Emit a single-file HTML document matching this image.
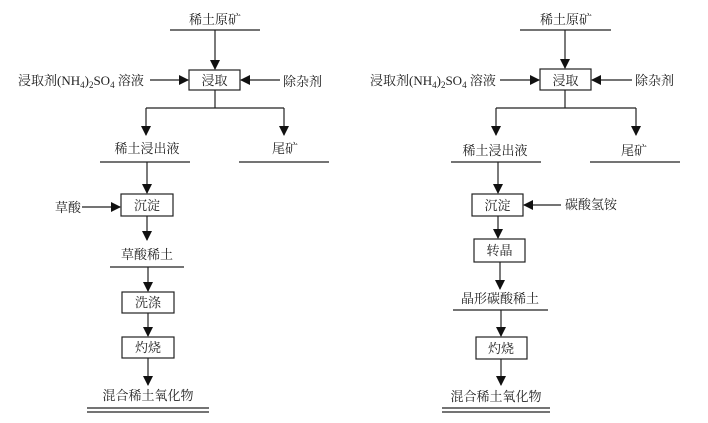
<!DOCTYPE html>
<html><head><meta charset="utf-8"><style>
body{margin:0;background:#fff}
svg text{font-family:"Liberation Serif","Noto Serif CJK SC",serif;font-size:13px;fill:#222}
</style></head><body>
<svg width="708" height="418" viewBox="0 0 708 418" xmlns="http://www.w3.org/2000/svg">
<defs><marker id="a" markerWidth="10" markerHeight="10" refX="9" refY="5" orient="auto" markerUnits="userSpaceOnUse"><path d="M0,0 L10,5 L0,10 z" fill="#111"/></marker></defs>
<g stroke="#222" stroke-width="1.2" fill="none">
<!-- left -->
<line x1="170" y1="30" x2="260" y2="30"/>
<line x1="215" y1="30" x2="215" y2="69" marker-end="url(#a)"/>
<rect x="189" y="70" width="51" height="20" fill="#fff"/>
<line x1="150" y1="80" x2="188" y2="80" marker-end="url(#a)"/>
<line x1="280" y1="80" x2="241" y2="80" marker-end="url(#a)"/>
<polyline points="215,90 215,108"/>
<line x1="146" y1="108" x2="284" y2="108"/>
<line x1="146" y1="108" x2="146" y2="135" marker-end="url(#a)"/>
<line x1="284" y1="108" x2="284" y2="135" marker-end="url(#a)"/>
<line x1="100" y1="162" x2="190" y2="162"/>
<line x1="239" y1="162" x2="329" y2="162"/>
<line x1="147" y1="162" x2="147" y2="193" marker-end="url(#a)"/>
<rect x="121" y="194" width="52" height="22" fill="#fff"/>
<line x1="82" y1="207" x2="120" y2="207" marker-end="url(#a)"/>
<line x1="147" y1="216" x2="147" y2="240" marker-end="url(#a)"/>
<line x1="110" y1="267" x2="184" y2="267"/>
<line x1="148" y1="267" x2="148" y2="291" marker-end="url(#a)"/>
<rect x="122" y="292" width="52" height="21" fill="#fff"/>
<line x1="148" y1="313" x2="148" y2="336" marker-end="url(#a)"/>
<rect x="122" y="337" width="52" height="21" fill="#fff"/>
<line x1="148" y1="358" x2="148" y2="385" marker-end="url(#a)"/>
<line x1="87" y1="408" x2="209" y2="408"/>
<line x1="87" y1="412" x2="209" y2="412"/>
<!-- right -->
<line x1="520" y1="30" x2="611" y2="30"/>
<line x1="565" y1="30" x2="565" y2="68" marker-end="url(#a)"/>
<rect x="540" y="69" width="51" height="21" fill="#fff"/>
<line x1="500" y1="80" x2="539" y2="80" marker-end="url(#a)"/>
<line x1="632" y1="80" x2="592" y2="80" marker-end="url(#a)"/>
<line x1="565" y1="90" x2="565" y2="108"/>
<line x1="496" y1="108" x2="636" y2="108"/>
<line x1="496" y1="108" x2="496" y2="135" marker-end="url(#a)"/>
<line x1="636" y1="108" x2="636" y2="135" marker-end="url(#a)"/>
<line x1="451" y1="162" x2="541" y2="162"/>
<line x1="590" y1="162" x2="680" y2="162"/>
<line x1="498" y1="162" x2="498" y2="193" marker-end="url(#a)"/>
<rect x="472" y="194" width="51" height="22" fill="#fff"/>
<line x1="561" y1="205" x2="524" y2="205" marker-end="url(#a)"/>
<line x1="498" y1="216" x2="498" y2="238" marker-end="url(#a)"/>
<rect x="474" y="239" width="51" height="23" fill="#fff"/>
<line x1="500" y1="262" x2="500" y2="289" marker-end="url(#a)"/>
<line x1="453" y1="310" x2="548" y2="310"/>
<line x1="501" y1="310" x2="501" y2="336" marker-end="url(#a)"/>
<rect x="476" y="337" width="51" height="22" fill="#fff"/>
<line x1="501" y1="359" x2="501" y2="385" marker-end="url(#a)"/>
<line x1="442" y1="408" x2="550" y2="408"/>
<line x1="442" y1="412" x2="550" y2="412"/>
</g>
<g>
<text x="215" y="24" text-anchor="middle">稀土原矿</text>
<text x="214.5" y="85" text-anchor="middle">浸取</text>
<text x="18" y="85">浸取剂(NH<tspan font-size="9" dy="3">4</tspan><tspan dy="-3">)</tspan><tspan font-size="9" dy="3">2</tspan><tspan dy="-3">SO</tspan><tspan font-size="9" dy="3">4</tspan><tspan dy="-3"> 溶液</tspan></text>
<text x="283" y="86">除杂剂</text>
<text x="147" y="153" text-anchor="middle">稀土浸出液</text>
<text x="285" y="153" text-anchor="middle">尾矿</text>
<text x="147" y="210" text-anchor="middle">沉淀</text>
<text x="55" y="212">草酸</text>
<text x="147" y="259" text-anchor="middle">草酸稀土</text>
<text x="148" y="307" text-anchor="middle">洗涤</text>
<text x="148" y="352" text-anchor="middle">灼烧</text>
<text x="148" y="400" text-anchor="middle">混合稀土氧化物</text>
<text x="566" y="24" text-anchor="middle">稀土原矿</text>
<text x="565.5" y="85" text-anchor="middle">浸取</text>
<text x="370" y="85">浸取剂(NH<tspan font-size="9" dy="3">4</tspan><tspan dy="-3">)</tspan><tspan font-size="9" dy="3">2</tspan><tspan dy="-3">SO</tspan><tspan font-size="9" dy="3">4</tspan><tspan dy="-3"> 溶液</tspan></text>
<text x="635" y="85">除杂剂</text>
<text x="495" y="155" text-anchor="middle">稀土浸出液</text>
<text x="634" y="155" text-anchor="middle">尾矿</text>
<text x="497.5" y="210" text-anchor="middle">沉淀</text>
<text x="565" y="209">碳酸氢铵</text>
<text x="499.5" y="255" text-anchor="middle">转晶</text>
<text x="500" y="303" text-anchor="middle">晶形碳酸稀土</text>
<text x="501" y="353" text-anchor="middle">灼烧</text>
<text x="496" y="401" text-anchor="middle">混合稀土氧化物</text>
</g>
</svg>
</body></html>
